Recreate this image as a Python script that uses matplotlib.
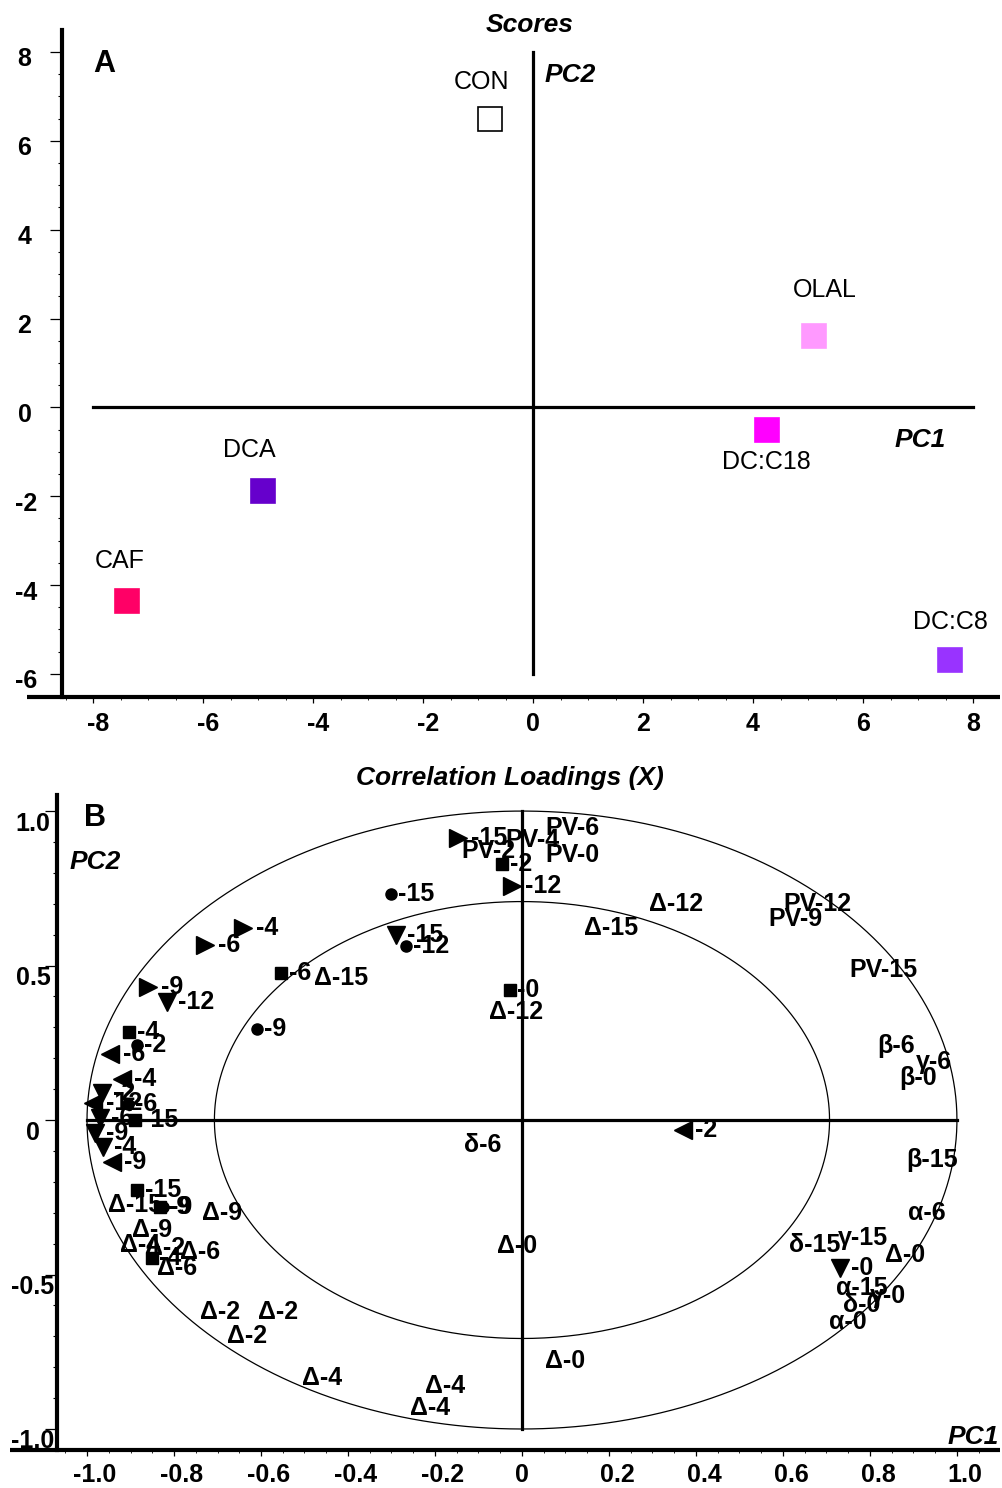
import matplotlib
matplotlib.use('Agg')
import matplotlib.pyplot as plt
import numpy as np
from matplotlib.transforms import ScaledTranslation

plt.rcParams['font.family'] = ['Liberation Sans', 'DejaVu Sans']
plt.rcParams['axes.unicode_minus'] = False

# ---------------------------------------------------------------
# Scores (panel A)
# ---------------------------------------------------------------
samples = ['CON', 'OLAL', 'DC:C18', 'DCA', 'CAF', 'DC:C8']
score_pc1 = [-0.78, 5.11, 4.25, -4.91, -7.38, 7.58]
score_pc2 = [6.49, 1.60, -0.52, -1.89, -4.37, -5.68]
sample_colors = ['white', '#ff99ff', '#ff00ff', '#6600cc', '#ff0066', '#9933ff']
# label offsets from the square, in points
sample_label_offsets = [(-6, 27), (8, 33), (0, -23), (-10, 30), (-5, 29.5), (0, 27)]

# ---------------------------------------------------------------
# Correlation loadings (panel B)
# ---------------------------------------------------------------
# right-pointing triangles
tri_r_x = [-0.147, -0.023, -0.641, -0.729, -0.860]
tri_r_y = [0.913, 0.757, 0.621, 0.566, 0.430]
tri_r_lab = ['-15', '-12', '-4', '-6', '-9']

# left-pointing triangles
tri_l_x = [-0.947, -0.920, -0.986, -0.943, 0.370]
tri_l_y = [0.214, 0.133, 0.055, -0.136, -0.032]
tri_l_lab = ['-6', '-4', '-12', '-9', '-2']

# down triangles
tri_d_x = [-0.290, -0.816, -0.966, -0.970, -0.982, -0.963, 0.731]
tri_d_y = [0.599, 0.382, 0.087, 0.006, -0.042, -0.087, -0.479]
tri_d_lab = ['-15', '-12', '-2', '-6', '-9', '-4', '-0']

# squares
sq_x = [-0.046, -0.554, -0.028, -0.903, -0.890, -0.885, -0.832, -0.851]
sq_y = [0.828, 0.476, 0.421, 0.285, 0.000, -0.227, -0.282, -0.447]
sq_lab = ['-2', '-6', '-0', '-4', '-15', '-15', '-9', '-4']

# circles
dot_x = [-0.301, -0.267, -0.609, -0.885, -0.906, -0.825]
dot_y = [0.731, 0.563, 0.294, 0.243, 0.052, -0.282]
dot_lab = ['-15', '-12', '-9', '-2', '-6', '-9']

# variables shown by name only
name_lab = ['PV-6', 'PV-4', 'PV-2', 'PV-0', 'Δ-12', 'PV-12', 'PV-9', 'Δ-15',
            'Δ-15', 'PV-15', 'Δ-12', 'β-6', 'γ-6', 'β-0', 'δ-6', 'β-15',
            'Δ-15', 'Δ-9', 'Δ-9', 'α-6', 'δ-15', 'γ-15', 'Δ-0', 'Δ-0',
            'Δ-4', 'Δ-2', 'Δ-6', 'Δ-6', 'α-15', 'γ-0', 'δ-0', 'α-0',
            'Δ-2', 'Δ-2', 'Δ-2', 'Δ-4', 'Δ-4', 'Δ-4', 'Δ-0']
name_x = [0.117, 0.025, -0.078, 0.117, 0.354, 0.680, 0.628, 0.205,
          -0.416, 0.832, -0.014, 0.860, 0.947, 0.910, -0.090, 0.943,
          -0.890, -0.690, -0.851, 0.931, 0.674, 0.784, 0.880, -0.011,
          -0.878, -0.821, -0.740, -0.793, 0.782, 0.841, 0.782, 0.749,
          -0.694, -0.561, -0.632, -0.460, -0.177, -0.211, 0.099]
name_y = [0.945, 0.906, 0.871, 0.858, 0.699, 0.699, 0.650, 0.621,
          0.460, 0.485, 0.350, 0.239, 0.188, 0.136, -0.081, -0.129,
          -0.275, -0.301, -0.356, -0.301, -0.405, -0.382, -0.437, -0.408,
          -0.405, -0.414, -0.427, -0.479, -0.544, -0.570, -0.599, -0.654,
          -0.621, -0.621, -0.699, -0.835, -0.861, -0.932, -0.780]

a_xticks = [-8, -6, -4, -2, 0, 2, 4, 6, 8]
a_yticks = [-6, -4, -2, 0, 2, 4, 6, 8]
b_xticks = [-1.0, -0.8, -0.6, -0.4, -0.2, 0, 0.2, 0.4, 0.6, 0.8, 1.0]
b_xticklabels = ['-1.0', '-0.8', '-0.6', '-0.4', '-0.2', '0', '0.2', '0.4', '0.6', '0.8', '1.0']
b_yticks = [-1.0, -0.5, 0, 0.5, 1.0]
b_yticklabels = ['-1.0', '-0.5', '0', '0.5', '1.0']

W, H = 1002, 1488
fig = plt.figure(figsize=(W / 100, H / 100), dpi=100)


def px_axes(left, top, right, bottom):
    return fig.add_axes([left / W, 1 - bottom / H, (right - left) / W, (bottom - top) / H])


def shift(lab, dx_px, dy_px):
    lab.set_transform(lab.get_transform()
                      + ScaledTranslation(dx_px / 100, dy_px / 100, fig.dpi_scale_trans))


def style_axes(ax, xminor, yminor, ypad, xpad, bottom_ext):
    for side in ['top', 'right', 'bottom']:
        ax.spines[side].set_visible(False)
    ax.spines['left'].set_linewidth(3)
    # bottom axis line runs past the left axis
    ax.plot([-bottom_ext, 1], [0, 0], color='black', lw=3, transform=ax.transAxes,
            clip_on=False, solid_capstyle='butt', zorder=5)
    ax.xaxis.set_minor_locator(plt.MultipleLocator(xminor))
    ax.yaxis.set_minor_locator(plt.MultipleLocator(yminor))
    ax.tick_params(axis='y', which='major', direction='out', length=9, width=0.9,
                   pad=ypad, labelsize=18, left=True)
    ax.tick_params(axis='y', which='minor', direction='out', length=3, width=0.8)
    ax.tick_params(axis='x', which='major', direction='out', length=4, width=0.9,
                   pad=xpad, labelsize=18)
    ax.tick_params(axis='x', which='minor', direction='out', length=2, width=0.6)
    for lab in ax.get_xticklabels() + ax.get_yticklabels():
        lab.set_fontweight('bold')
    for lab in ax.get_yticklabels():
        lab.set_horizontalalignment('center')


# ---------------- panel A ----------------
axA = px_axes(62, 30, 1000, 697)
axA.set_xlim(-8.564, 8.49)
axA.set_ylim(-6.52, 8.495)
axA.set_xticks(a_xticks)
axA.set_yticks(a_yticks)
axA.set_xticklabels([str(v) for v in a_xticks])
axA.set_yticklabels([str(v) for v in a_yticks])
style_axes(axA, 0.5, 0.5, 18, 7, 35 / 938)
for lab in axA.get_yticklabels():
    shift(lab, 2 if lab.get_text().startswith('-') else 0, -5)
for lab in axA.get_xticklabels():
    if lab.get_text().startswith('-'):
        shift(lab, 5, 0)

axA.plot([-8, 8], [0, 0], color='black', lw=2.3)
axA.plot([0, 0], [-6, 8], color='black', lw=2.3)

for name, x, y, c, off in zip(samples, score_pc1, score_pc2, sample_colors, sample_label_offsets):
    edge = 'black' if c == 'white' else c
    axA.plot(x, y, marker='s', ms=17.5, mfc=c, mec=edge, mew=1.2, ls='none', zorder=6)
    axA.annotate(name, (x, y), xytext=off, textcoords='offset points',
                 ha='center', va='center', fontsize=18)

axA.text(0.0448, 0.949, 'A', transform=axA.transAxes, fontsize=22, fontweight='bold',
         ha='center', va='center')
axA.text(0.5416, 0.9325, 'PC2', transform=axA.transAxes, fontsize=19, fontweight='bold',
         style='italic', ha='center', va='center')
axA.text(0.9147, 0.3853, 'PC1', transform=axA.transAxes, fontsize=19, fontweight='bold',
         style='italic', ha='center', va='center')
fig.text(530 / W, 1 - 25 / H, 'Scores', fontsize=19, fontweight='bold', style='italic',
         ha='center', va='center')

# ---------------- panel B ----------------
axB = px_axes(57, 795, 1000, 1450)
axB.set_xlim(-1.069, 1.099)
axB.set_ylim(-1.068, 1.052)
axB.set_xticks(b_xticks)
axB.set_yticks(b_yticks)
axB.set_xticklabels(b_xticklabels)
axB.set_yticklabels(b_yticklabels)
style_axes(axB, 0.05, 0.1, 8.3, 5, 47 / 943)
for lab in axB.get_yticklabels():
    shift(lab, 0, -10)
for lab in axB.get_xticklabels():
    if lab.get_text() != '0':
        shift(lab, 8, 0)

theta = np.linspace(0, 2 * np.pi, 500)
for r in [1.0, np.sqrt(0.5)]:
    axB.plot(r * np.cos(theta), r * np.sin(theta), color='black', lw=0.9)
axB.plot([-1, 1], [0, 0], color='black', lw=2.3)
axB.plot([0, 0], [-1, 1], color='black', lw=2.3)

marker_sets = [
    ('>', 13, 9.5, tri_r_x, tri_r_y, tri_r_lab),
    ('<', 13, 9, tri_l_x, tri_l_y, tri_l_lab),
    ('v', 13, 8, tri_d_x, tri_d_y, tri_d_lab),
    ('s', 9, 5.5, sq_x, sq_y, sq_lab),
    ('o', 8, 5, dot_x, dot_y, dot_lab),
]
for mk, ms, gap, xs, ys, labs in marker_sets:
    axB.plot(xs, ys, marker=mk, ms=ms, color='black', ls='none', zorder=4)
    for x, y, t in zip(xs, ys, labs):
        axB.annotate(t, (x, y), xytext=(gap, 0), textcoords='offset points',
                     ha='left', va='center', fontsize=18, fontweight='bold')

for t, x, y in zip(name_lab, name_x, name_y):
    axB.text(x, y, t, ha='center', va='center', fontsize=18, fontweight='bold')

axB.text(0.0403, 0.9649, 'B', transform=axB.transAxes, fontsize=22, fontweight='bold',
         ha='center', va='center')
axB.text(0.0403, 0.8977, 'PC2', transform=axB.transAxes, fontsize=19, fontweight='bold',
         style='italic', ha='center', va='center')
axB.text(0.9714, 0.0198, 'PC1', transform=axB.transAxes, fontsize=19, fontweight='bold',
         style='italic', ha='center', va='center')
fig.text(510 / W, 1 - 778 / H, 'Correlation Loadings (X)', fontsize=19, fontweight='bold',
         style='italic', ha='center', va='center')

fig.savefig('out.png', dpi=100, facecolor='white')
